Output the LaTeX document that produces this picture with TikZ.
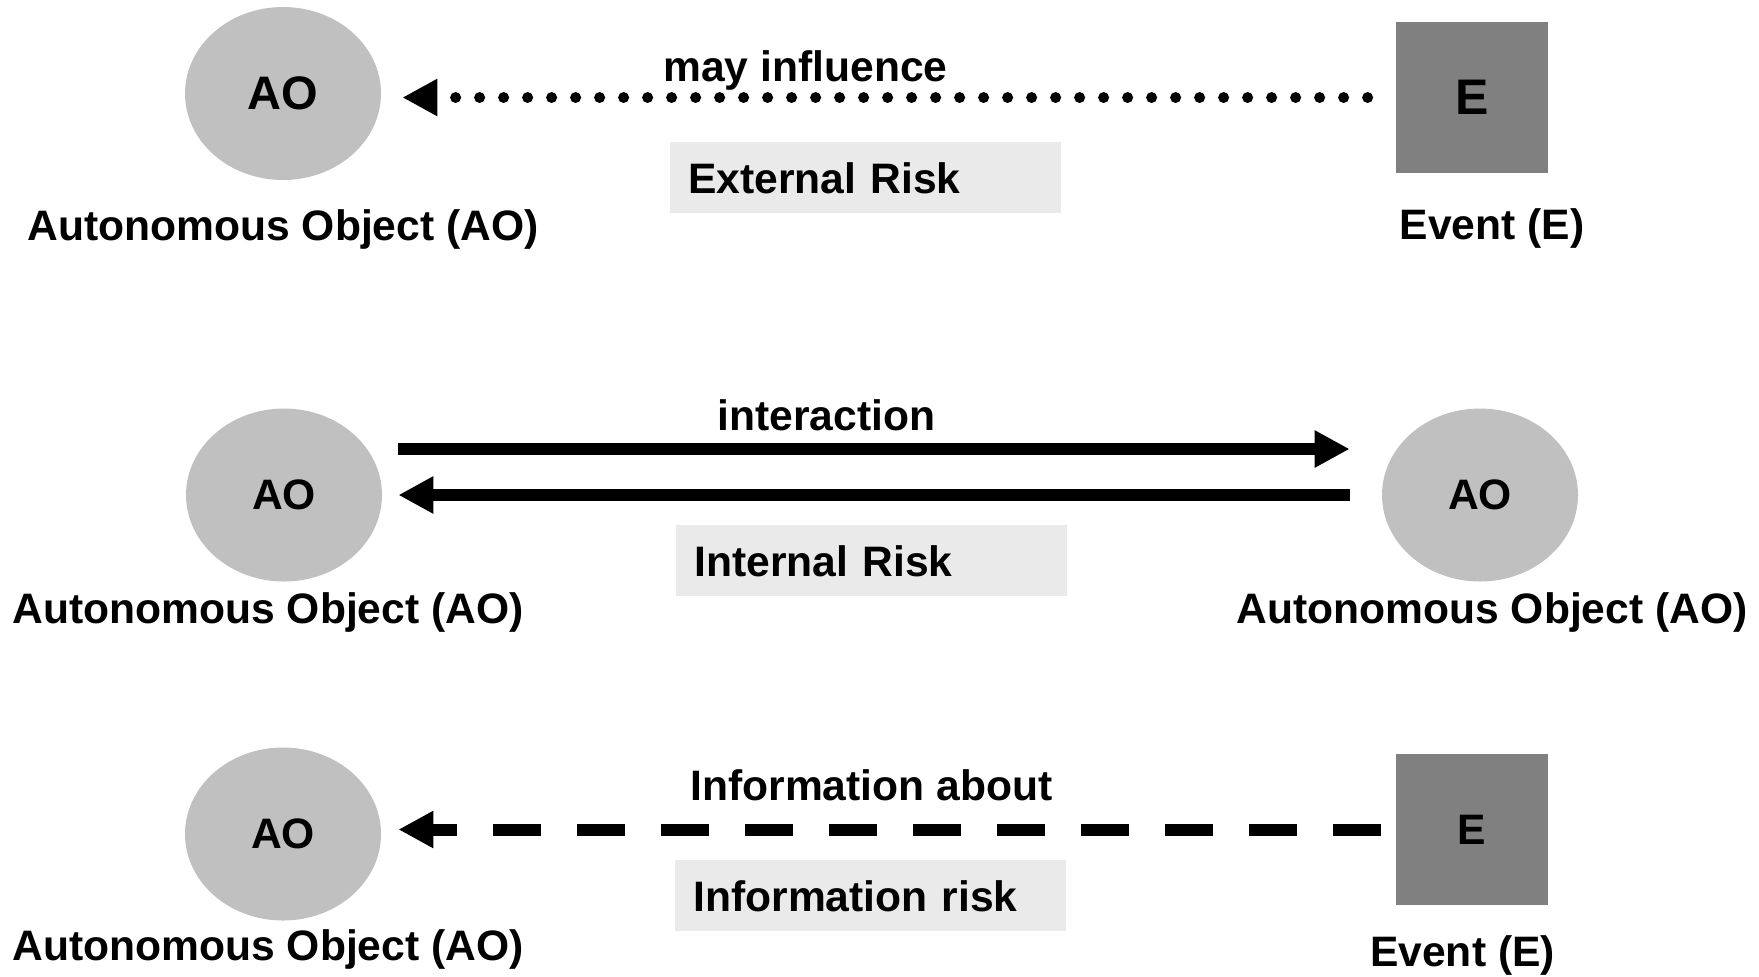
\documentclass[tikz,border=0pt]{standalone}
\usepackage{fontspec}
\setmainfont{Liberation Sans}
\usetikzlibrary{arrows.meta,shapes.geometric}
\definecolor{aogray}{HTML}{C0C0C0}
\definecolor{evgray}{HTML}{808080}
\definecolor{riskgray}{HTML}{EAEAEA}
\newcommand{\labelsize}[1]{\fontsize{#1}{#1}\selectfont}
\begin{document}
\begin{tikzpicture}[
  x=0.5pt, y=-0.5pt,
  font=\bfseries\labelsize{21.3pt},
  aonode/.style={ellipse, fill=aogray, minimum width=98pt, minimum height=86.5pt, inner sep=0pt},
  evnode/.style={rectangle, fill=evgray, minimum width=76pt, minimum height=75.5pt, inner sep=0pt},
  caption/.style={anchor=base, inner sep=0pt},
  edgelabel/.style={anchor=base west, inner sep=0pt},
  riskbox/.style={fill=riskgray, anchor=north west, minimum height=35.5pt,
    text width=177.5pt, inner xsep=9pt, inner ysep=0pt, align=left},
  tip/.style={-{Triangle[length=17.5pt,width=17.5pt]}},
  link/.style={tip, line width=6pt},
  influence/.style={tip, line width=5.5pt, line cap=round, dash pattern=on 0pt off 12pt},
  infoflow/.style={tip, line width=6pt, dash pattern=on 24pt off 18pt}
]
\useasboundingbox (0,0) rectangle (1759,976);

% external risk: an event may influence an autonomous object
\node[aonode] (ao1) at (283,93.5) {\labelsize{23.5pt}AO};
\node[evnode] (ev1) at (1472,97.5) {\labelsize{25pt}E};
\node[caption] (ao1cap) at (283,240) {Autonomous Object (AO)};
\node[caption] (ev1cap) at (1492,239) {Event (E)};
\draw[influence] ([xshift=-14pt]ev1.west) -- ([xshift=10.5pt]ao1.east |- ev1.west);
\node[edgelabel] (influence) at (663,81) {may influence};
\node[riskbox] (extrisk) at (670,142) {External Risk};

% internal risk: two autonomous objects interact
\node[aonode] (ao2) at (284,495) {AO};
\node[aonode] (ao3) at (1480,495) {AO};
\node[caption] (ao2cap) at (268,623) {Autonomous Object (AO)};
\node[caption] (ao3cap) at (1492,623) {Autonomous Object (AO)};
\draw[link] ([xshift=8pt,yshift=23pt]ao2.east) -- ([xshift=-16pt,yshift=23pt]ao3.west);
\draw[link] ([xshift=-16pt]ao3.west) -- ([xshift=8pt]ao2.east);
\node[edgelabel] (interaction) at (717,430) {interaction};
\node[riskbox] (intrisk) at (676,525) {Internal Risk};

% information risk: information about an event reaches an autonomous object
\node[aonode] (ao4) at (283,834) {AO};
\node[evnode] (ev2) at (1472,829.5) {E};
\node[caption] (ao4cap) at (268,960) {Autonomous Object (AO)};
\node[caption] (ev2cap) at (1462.5,966) {Event (E)};
\draw[infoflow] ([xshift=-7.5pt]ev2.west) -- ([xshift=8.5pt]ao4.east |- ev2.west);
\node[edgelabel] (infoabout) at (690,800) {Information about};
\node[riskbox] (inforisk) at (675,860) {Information risk};
\end{tikzpicture}
\end{document}
